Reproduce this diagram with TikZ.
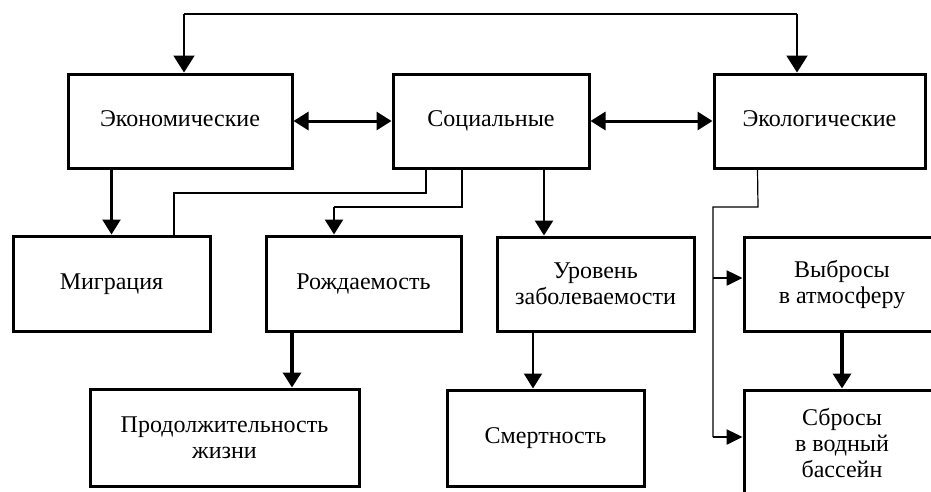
\documentclass[tikz,border=0pt]{standalone}
\usepackage{fontspec}
\setmainfont{Liberation Serif}
\usetikzlibrary{arrows.meta}

\tikzset{
  box/.style={draw, line width=3pt, align=center, inner sep=0pt,
    font=\fontsize{24}{26}\selectfont},
  oneline/.style={text height=17pt, text depth=6pt},
  arr/.style={line width=2.5pt, -{Triangle[length=15pt,width=18pt]}},
  bigarr/.style={line width=2pt, -{Triangle[length=17pt,width=21pt]}},
  dblarr/.style={line width=3pt, {Triangle[length=15pt,width=18pt]}-{Triangle[length=15pt,width=18pt]}},
  wire/.style={line width=1.2pt}
}

\begin{document}
\begin{tikzpicture}[x=1pt, y=-1pt]
            \useasboundingbox (0,0) rectangle (931,491);
            \clip (0,0) rectangle (931,491);

            % Draw the three factor boxes
            \node[box, oneline, minimum width=224pt, minimum height=94pt] (econ) at (180,121) {Экономические};
            \node[box, oneline, minimum width=196pt, minimum height=94pt] (soc) at (491,121) {Социальные};
            \node[box, oneline, minimum width=211pt, minimum height=94pt] (eco) at (819.5,121) {Экологические};

            % Draw the boxes of the second row
            \node[box, oneline, minimum width=197pt, minimum height=95pt] (migr) at (111.5,283.5) {Миграция};
            \node[box, oneline, minimum width=195pt, minimum height=95pt] (rozh) at (363.5,283.5) {Рождаемость};
            \node[box, minimum width=197pt, minimum height=94pt] (urov) at (595.5,284) {Уровень\\заболеваемости};
            \node[box, minimum width=196pt, minimum height=94pt] (vybr) at (842,284) {Выбросы\\в атмосферу};

            % Draw the boxes of the third row
            \node[box, minimum width=269pt, minimum height=97pt] (prod) at (224.5,437.5) {Продолжительность\\жизни};
            \node[box, oneline, minimum width=197pt, minimum height=96pt] (smert) at (545.5,438) {Смертность};
            \node[box, minimum width=196pt, minimum height=106pt] (sbros) at (842,443) {Сбросы\\в водный\\бассейн};

            % Points where the lines bend
            \coordinate (top) at (184,14);
            \coordinate (topR) at (797,14);
            \coordinate (bendA) at (426,193);
            \coordinate (bendM) at (174,193);
            \coordinate (bendB) at (462,207);
            \coordinate (bendC) at (334,207);
            \coordinate (inU) at (544,236);
            \coordinate (inP) at (292,388);
            \coordinate (inS) at (533,389);
            \coordinate (bendE) at (758,207);
            \coordinate (bendF) at (713,207);
            \coordinate (tapV) at (713,278);
            \coordinate (tapS) at (713,437);

            % Draw the line over the top
            \draw[wire] (top) -- (topR);
            \draw[bigarr] (top) -- (econ.north -| top);
            \draw[bigarr] (topR) -- (eco.north -| topR);

            % Draw the links between the factors
            \draw[dblarr] (econ.east) -- (soc.west);
            \draw[dblarr] (soc.east) -- (eco.west);

            % Draw the links to the second row
            \draw[arr] (migr.north |- econ.south) -- (migr.north);
            \draw[wire] (soc.south -| bendA) -- (bendA) -- (bendM) -- (migr.north -| bendM);
            \draw[wire] (soc.south -| bendB) -- (bendB) -- (bendC);
            \draw[arr] (bendC) -- (rozh.north -| bendC);
            \draw[arr] (soc.south -| inU) -- (urov.north -| inU);

            % Draw the links to the third row
            \draw[arr, line width=3.5pt] (rozh.south -| inP) -- (prod.north -| inP);
            \draw[arr, line width=2pt] (urov.south -| inS) -- (smert.north -| inS);
            \draw[arr, line width=3.5pt] (vybr.south) -- (sbros.north);

            % Draw the line from the ecological box
            \draw[wire] ([xshift=-0.5pt]eco.south -| bendE) -- (bendE) -- (bendF) -- (tapS);
            \draw[arr, -{Triangle[length=16pt,width=15pt]}] (tapV) -- (vybr.west |- tapV);
            \draw[arr, -{Triangle[length=16pt,width=15pt]}] (tapS) -- (sbros.west |- tapS);

        \end{tikzpicture}
\end{document}
